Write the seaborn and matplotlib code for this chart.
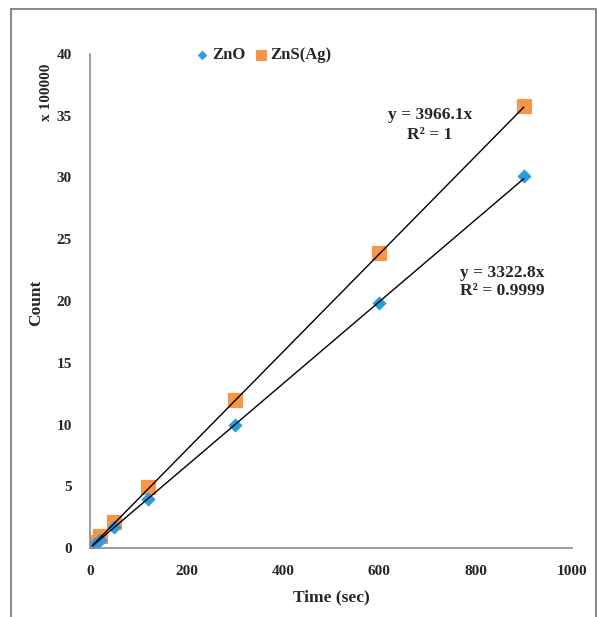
import numpy as np
import pandas as pd
import matplotlib
matplotlib.use('Agg')
import matplotlib.pyplot as plt
import seaborn as sns
from matplotlib.patches import Rectangle

# data (counts in units of 1e5)
time_zno = [10, 20, 50, 120, 300, 600, 900]
count_zno = [0.35, 0.65, 1.7, 3.95, 10.0, 19.8, 30.1]
time_zns = [5, 20, 50, 120, 300, 600, 900]
count_zns = [0.45, 0.95, 2.1, 4.9, 12.0, 23.9, 35.8]
slope_zno = 3322.8
slope_zns = 3966.1
r2_zno = '0.9999'
r2_zns = '1'

sns.set_style('white')
plt.rcParams['font.family'] = ['Liberation Serif', 'DejaVu Serif']
plt.rcParams['font.weight'] = 'bold'

blue = '#2A9DE0'
orange = '#F79646'
gray = '#8C8C8C'

fig = plt.figure(figsize=(5.97, 6.17), dpi=100)
ax = fig.add_axes([90/597, 69/617, 482/597, 494/617])

df_zno = pd.DataFrame({'t': time_zno, 'c': count_zno})
df_zns = pd.DataFrame({'t': time_zns, 'c': count_zns})

# trendlines through origin
xs = np.array([5, 900])
ax.plot(xs, slope_zns * xs / 1e5, color='black', lw=1, zorder=3)
ax.plot(xs, slope_zno * xs / 1e5, color='black', lw=1, zorder=3)

sns.scatterplot(data=df_zns, x='t', y='c', marker='s', s=110, color=orange,
                edgecolor=orange, ax=ax, zorder=2, label='ZnS(Ag)')
sns.scatterplot(data=df_zno, x='t', y='c', marker='D', s=45, color=blue,
                edgecolor=blue, ax=ax, zorder=2, label='ZnO')

ax.set_xlim(0, 1000)
ax.set_ylim(0, 40)
ax.set_xticks(range(0, 1001, 200))
ax.set_yticks(range(0, 41, 5))
for s in ['top', 'right']:
    ax.spines[s].set_visible(False)
for s in ['left', 'bottom']:
    ax.spines[s].set_color(gray)
    ax.spines[s].set_linewidth(1.2)
ax.tick_params(axis='both', direction='out', length=5, color=gray, width=1,
               labelsize=11)
ax.tick_params(axis='y', pad=8)
ax.tick_params(axis='x', pad=7)
for lab in ax.get_xticklabels() + ax.get_yticklabels():
    lab.set_fontweight('bold')

ax.set_xlabel('')
ax.set_ylabel('')
fig.text(331/597, 1 - 597/617, 'Time (sec)', ha='center', va='center',
         fontsize=12.5, fontweight='bold')
fig.text(36/597, 1 - 303/617, 'Count', rotation=90, ha='center', va='center',
         fontsize=12.5, fontweight='bold')
fig.text(47/597, 1 - 92/617, 'x 100000', rotation=90, ha='center', va='center',
         fontsize=11, fontweight='bold')

handles, labels = ax.get_legend_handles_labels()
ax.legend(handles[::-1], labels[::-1], loc='center left',
          bbox_to_anchor=(196/597, 1 - 55/617), bbox_transform=fig.transFigure,
          ncol=2, frameon=False, prop={'weight': 'bold', 'size': 12},
          handlelength=0.75, handletextpad=0.2, columnspacing=0.55,
          borderpad=0, borderaxespad=0, markerscale=0.65)

fig.text(430/597, 1 - 125/617, f'y = {slope_zns}x\nR² = {r2_zns}', ha='center',
         va='center', fontsize=12.5, fontweight='bold', linespacing=1.3)
fig.text(460/597, 1 - 282/617, f'y = {slope_zno}x\nR² = {r2_zno}', ha='left',
         va='center', fontsize=12.5, fontweight='bold', linespacing=1.15)

# outer chart frame
fig.patches.append(Rectangle((11/597, -0.05), 585/597, 1.05 - 9/617,
                             transform=fig.transFigure, fill=False,
                             edgecolor=gray, lw=1.5))

fig.savefig('out.png', dpi=100)
